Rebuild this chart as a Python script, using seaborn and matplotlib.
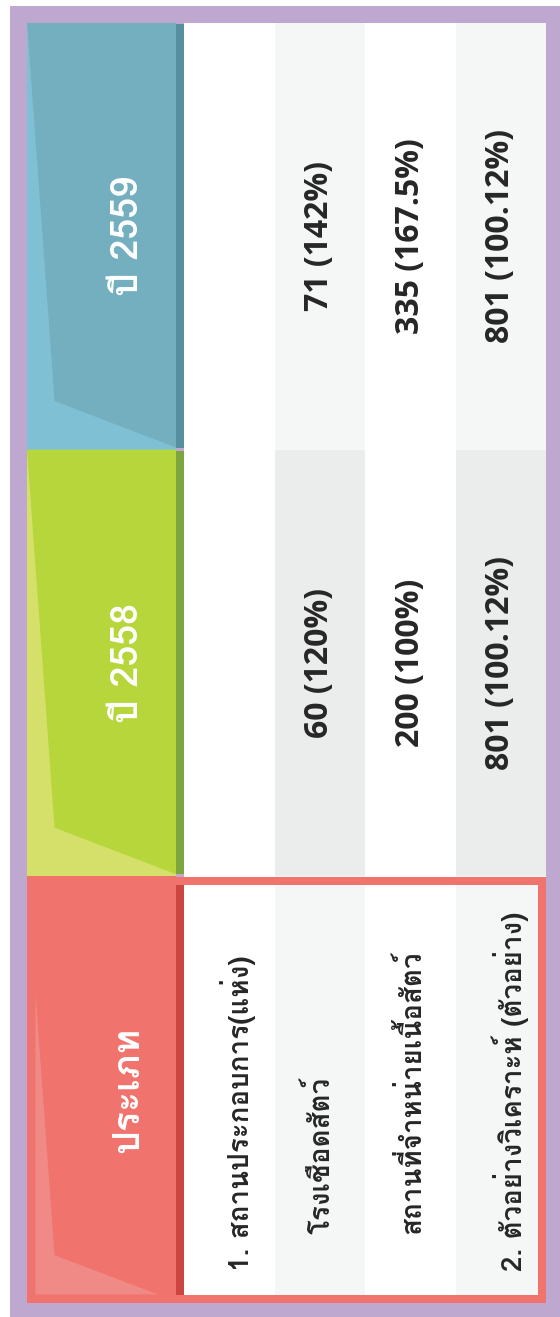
import matplotlib
matplotlib.use("Agg")
import matplotlib.pyplot as plt
import seaborn as sns
import pandas as pd
import numpy as np
from matplotlib import font_manager
from matplotlib.ft2font import FT2Font
from matplotlib.colors import ListedColormap
from matplotlib.patches import Rectangle, Polygon

# --- data -------------------------------------------------------------
sections = ["ปี 2559", "ปี 2558", "ประเภท"]
categories = [
    "1. สถานประกอบการ(แห่ง)",
    "โรงเชือดสัตว์",
    "สถานที่จำหน่ายเนื้อสัตว์",
    "2. ตัวอย่างวิเคราะห์ (ตัวอย่าง)",
]
counts_2559 = [None, 71, 335, 801]
pct_2559 = [None, 142, 167.5, 100.12]
counts_2558 = [None, 60, 200, 801]
pct_2558 = [None, 120, 100, 100.12]

# --- layout (pixels, figure is 560 x 1317) -----------------------------
W, H, DPI = 560, 1317, 100
INNER_L, INNER_T, INNER_R, INNER_B = 27, 23, 546, 1303
HEAD_R, CELL_L = 176, 184
SEC_H = (INNER_B - INNER_T) / 3

PURPLE = "#bfa8cf"
TEXT = "#262626"
# (light, main, strip) per section
HEAD_COLORS = [
    ("#80c0d4", "#74afc0", "#588f9f"),
    ("#d5e06b", "#b6d63c", "#7ea63f"),
    ("#f08a86", "#f0736d", "#cc4540"),
]
ZEBRA = ["#ffffff", "#f5f6f6", "#ebecec"]


def find_thai_font():
    """Procura uma fonte instalada com glifos tailandeses."""
    for entry in font_manager.fontManager.ttflist:
        try:
            if 0x0E01 in FT2Font(entry.fname).get_charmap():
                return entry.name
        except Exception:
            continue
    return None


def fmt_value(count, pct):
    if count is None:
        return ""
    return f"{count} ({pct:g}%)"


sns.set_theme(style="white")
thai = find_thai_font()
families = ([thai] if thai else []) + ["Open Sans", "DejaVu Sans"]
plt.rcParams["font.family"] = families
latin = ["Open Sans", "DejaVu Sans"]

fig = plt.figure(figsize=(W / DPI, H / DPI), dpi=DPI)
fig.patch.set_facecolor("white")

# background / headers in pixel coordinates
bg = fig.add_axes([0, 0, 1, 1], zorder=0)
bg.set_xlim(0, W)
bg.set_ylim(H, 0)
bg.axis("off")
bg.add_patch(Rectangle((10, 6), W - 10, H - 6, color=PURPLE, lw=0))

head_w = HEAD_R - INNER_L
for i, (light, main, strip) in enumerate(HEAD_COLORS):
    top = INNER_T + i * SEC_H
    if i < 2:
        bg.add_patch(Rectangle((INNER_L, top), head_w, SEC_H, color=light, lw=0))
        bg.add_patch(Polygon([
            (INNER_L, top),
            (HEAD_R, top),
            (HEAD_R, top + 0.995 * SEC_H),
            (INNER_L + 0.185 * head_w, top + 0.886 * SEC_H),
        ], closed=True, color=main, lw=0))
    else:
        bg.add_patch(Rectangle((INNER_L, top), head_w, SEC_H, color=main, lw=0))
        bg.add_patch(Polygon([
            (INNER_L + 0.057 * head_w, top + 0.274 * SEC_H),
            (INNER_L + 0.185 * head_w, top + 0.888 * SEC_H),
            (INNER_L + 0.879 * head_w, top + 0.98 * SEC_H),
            (INNER_L + 0.057 * head_w, top + 0.98 * SEC_H),
        ], closed=True, color=light, lw=0))
    bg.add_patch(Rectangle((HEAD_R, top + 1), CELL_L - HEAD_R, SEC_H - 3, color=strip, lw=0))
    bg.text((INNER_L + HEAD_R) / 2 + 27, top + SEC_H / 2, sections[i], rotation=90,
            ha="center", va="center", color="white", fontsize=27, fontweight="bold")

# table cells with seaborn heatmap
shade = np.array([[0 if j % 2 == 0 else (2 if i == 1 else 1) for j in range(len(categories))]
                  for i in range(len(sections))])
shade_df = pd.DataFrame(shade, index=sections, columns=categories)
labels = np.array([
    [fmt_value(c, p) for c, p in zip(counts_2559, pct_2559)],
    [fmt_value(c, p) for c, p in zip(counts_2558, pct_2558)],
    ["" for _ in categories],
])

cell_ax = fig.add_axes([CELL_L / W, 1 - INNER_B / H, (INNER_R - CELL_L) / W, (INNER_B - INNER_T) / H],
                       zorder=1)
sns.heatmap(shade_df, ax=cell_ax, cmap=ListedColormap(ZEBRA), vmin=-0.5, vmax=2.5,
            cbar=False, annot=labels, fmt="", xticklabels=False, yticklabels=False,
            annot_kws=dict(rotation=90, fontsize=23, fontweight="bold", color=TEXT,
                           family=latin))
cell_ax.axis("off")

# category labels (left aligned in the rotated table -> bottom anchored)
for j, cat in enumerate(categories):
    start = 0.925 if cat[0].isdigit() else 0.838
    shift = 0.1 if cat[0].isdigit() else 0.0
    cell_ax.text(j + 0.5 + shift, 2 + start, cat, rotation=90, ha="center", va="bottom",
                 fontsize=20, fontweight="bold", color=TEXT)

# red outline around the category column
over = fig.add_axes([0, 0, 1, 1], zorder=2)
over.set_xlim(0, W)
over.set_ylim(H, 0)
over.axis("off")
lw_pt = 8 * 72 / DPI
top = INNER_T + 2 * SEC_H + 1
over.add_patch(Rectangle((INNER_L + 4, top + 4), INNER_R - INNER_L - 8, INNER_B - top - 8,
                         fill=False, edgecolor=HEAD_COLORS[2][1], lw=lw_pt))

fig.savefig("out.png", dpi=DPI)
